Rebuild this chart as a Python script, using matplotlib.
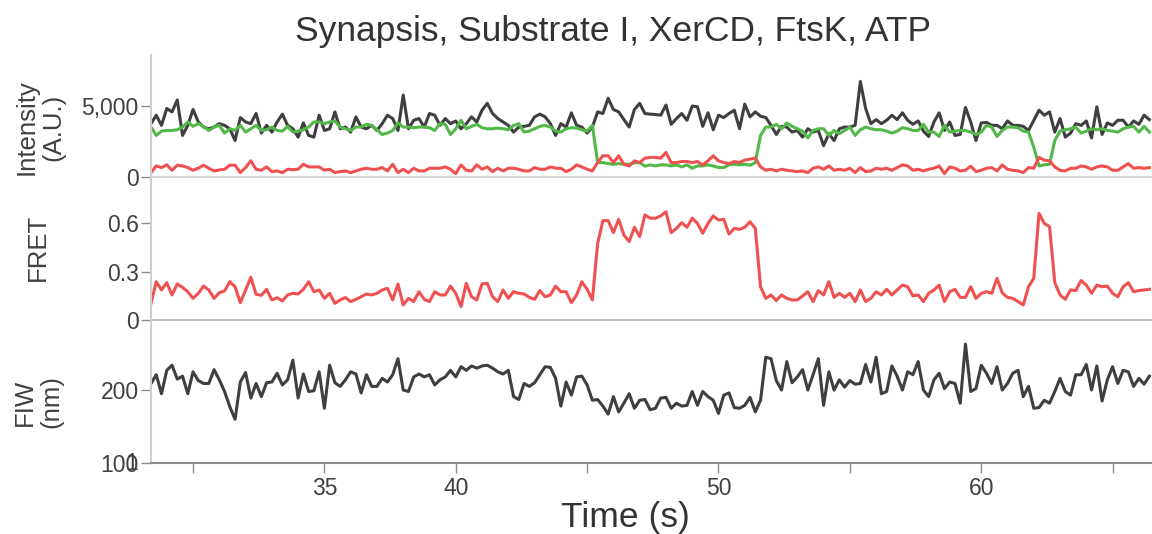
import numpy as np
import matplotlib
matplotlib.use("Agg")
import matplotlib.pyplot as plt

plt.rcParams['font.family'] = ['Liberation Sans', 'DejaVu Sans']

# frames every 0.2 s starting at 28.4 s
t_start = 28.4
t_step = 0.2

donor_acceptor_sum = [
    3760, 4355, 3640, 4830, 4590, 5430, 2930, 3640, 4760, 3880, 3520, 3400, 3520, 3760, 3640, 3400,
    2570, 4190, 3880, 3760, 4480, 3100, 3640, 3165, 3880, 4430, 3640, 3400, 2810, 3810, 2930, 2810,
    4355, 3280, 3400, 4590, 3400, 3520, 3165, 4240, 3520, 3400, 3640, 3280, 3760, 4355, 4120, 3280,
    5780, 3400, 4000, 4120, 3520, 4475, 4355, 3640, 4120, 3760, 3950, 3400, 3760, 4240, 3880, 4710,
    5190, 4475, 4120, 3880, 3640, 3165, 3520, 3570, 3640, 4240, 4430, 4240, 3760, 2930, 3760, 3520,
    4525, 3640, 3520, 3094, 3520, 4590, 4475, 5545, 4760, 4590, 4045, 3520, 4760, 5190, 4475, 4430,
    4405, 4355, 5070, 3715, 4120, 4475, 4000, 5000, 4950, 3570, 4525, 3330, 4355, 4190, 4475, 4710,
    3400, 5140, 4240, 4590, 4285, 4190, 3640, 3000, 3570, 3520, 3165, 3280, 2810, 3400, 3165, 3280,
    2210, 3050, 2570, 3400, 3520, 3520, 3640, 6735, 4830, 3760, 4045, 3760, 4000, 4355, 4045, 4525,
    4000, 3715, 3950, 3235, 2855, 3880, 4525, 3280, 3880, 2930, 3000, 4900, 3880, 2570, 3810, 3850,
    3640, 3640, 3400, 3950, 3640, 3640, 3570, 3280, 4000, 4710, 4355, 4590, 3165, 4120, 2810, 3094,
    3760, 3640, 3950, 2760, 4950, 3000, 3810, 3640, 4000, 4000, 3520, 3950, 3715, 4355, 4045,
]

donor = [
    3520, 2930, 3235, 3280, 3280, 3330, 3520, 3880, 3570, 3760, 3570, 3280, 3520, 3640, 3094, 3400,
    3280, 3640, 3165, 3400, 3640, 3280, 3330, 3520, 3280, 3235, 3570, 3165, 3235, 3330, 3520, 3880,
    3880, 3760, 3880, 3950, 3520, 3400, 3280, 3520, 3520, 3715, 3640, 3330, 2997, 3094, 3280, 3810,
    3520, 3520, 3475, 3520, 3520, 3475, 3280, 3760, 3715, 2997, 3400, 4000, 3400, 3570, 3715, 3475,
    3400, 3400, 3450, 3400, 3330, 3640, 3760, 3165, 3235, 3400, 3570, 3640, 3520, 3235, 3165, 3400,
    3475, 3450, 3330, 3235, 3640, 1018, 1018, 945, 900, 945, 900, 900, 995, 1018, 760, 855,
    780, 855, 855, 780, 855, 712, 855, 617, 780, 780, 855, 780, 665, 665, 855, 900,
    855, 900, 830, 1018, 2930, 3520, 3520, 3715, 3400, 3810, 3570, 3400, 3235, 2760, 3280, 3400,
    3400, 2930, 3280, 3050, 3280, 3520, 2930, 3330, 3520, 3400, 3330, 3330, 3235, 3094, 3235, 3475,
    3400, 3280, 3280, 3715, 3165, 3165, 2855, 3640, 3165, 3235, 3280, 3280, 3165, 3000, 3165, 3640,
    3520, 2855, 3280, 3520, 3520, 3475, 3235, 3165, 2095, 780, 855, 900, 2570, 3235, 3330, 3400,
    3520, 3094, 3235, 3400, 3330, 3400, 3280, 3235, 3165, 3400, 3520, 3570, 3165, 3570, 3165,
]

acceptor = [
    310, 780, 665, 855, 475, 830, 780, 665, 475, 617, 830, 617, 428, 500, 545, 830,
    830, 310, 665, 1140, 545, 475, 712, 380, 428, 310, 545, 520, 545, 900, 712, 712,
    712, 475, 545, 310, 380, 428, 310, 428, 545, 617, 545, 545, 665, 428, 900, 310,
    545, 310, 617, 428, 428, 617, 617, 617, 712, 545, 238, 855, 475, 428, 855, 545,
    712, 380, 617, 428, 617, 617, 545, 428, 428, 665, 545, 545, 712, 617, 617, 380,
    545, 855, 712, 545, 428, 1018, 1495, 1495, 1018, 1495, 900, 780, 1140, 1018, 1330, 1380,
    1380, 1330, 1735, 1018, 1018, 1090, 1090, 1018, 1090, 855, 1140, 1495, 1140, 1018, 945, 1090,
    1018, 1190, 1260, 1330, 712, 475, 545, 428, 545, 475, 428, 380, 428, 310, 617, 712,
    545, 780, 475, 545, 475, 617, 310, 665, 380, 428, 617, 545, 617, 475, 665, 855,
    780, 475, 545, 428, 545, 617, 780, 238, 712, 617, 428, 475, 760, 380, 475, 617,
    665, 428, 855, 545, 475, 428, 310, 665, 617, 1380, 1190, 1140, 712, 475, 428, 617,
    617, 780, 712, 545, 712, 780, 712, 475, 475, 712, 945, 617, 665, 617, 665,
]

fret = [
    0.103, 0.237, 0.186, 0.231, 0.155, 0.223, 0.202, 0.175, 0.134, 0.165, 0.210, 0.186, 0.134, 0.169, 0.180, 0.237,
    0.206, 0.107, 0.186, 0.264, 0.159, 0.153, 0.190, 0.124, 0.138, 0.118, 0.155, 0.165, 0.161, 0.190, 0.237, 0.175,
    0.186, 0.134, 0.165, 0.103, 0.124, 0.139, 0.114, 0.128, 0.144, 0.161, 0.155, 0.165, 0.186, 0.196, 0.124, 0.223,
    0.093, 0.134, 0.114, 0.175, 0.128, 0.114, 0.175, 0.155, 0.155, 0.210, 0.165, 0.083, 0.227, 0.144, 0.124, 0.223,
    0.227, 0.144, 0.114, 0.186, 0.134, 0.175, 0.165, 0.161, 0.140, 0.128, 0.182, 0.144, 0.155, 0.210, 0.175, 0.175,
    0.107, 0.155, 0.237, 0.190, 0.124, 0.474, 0.615, 0.615, 0.541, 0.623, 0.526, 0.485, 0.574, 0.516, 0.650, 0.630,
    0.630, 0.644, 0.670, 0.541, 0.567, 0.602, 0.574, 0.630, 0.598, 0.537, 0.598, 0.644, 0.619, 0.623, 0.532, 0.567,
    0.561, 0.574, 0.608, 0.567, 0.206, 0.134, 0.155, 0.120, 0.155, 0.134, 0.124, 0.124, 0.149, 0.175, 0.114, 0.182,
    0.155, 0.237, 0.140, 0.165, 0.140, 0.165, 0.114, 0.186, 0.114, 0.134, 0.175, 0.155, 0.190, 0.155, 0.186, 0.216,
    0.206, 0.149, 0.155, 0.114, 0.165, 0.186, 0.216, 0.114, 0.175, 0.190, 0.140, 0.140, 0.206, 0.134, 0.165, 0.175,
    0.165, 0.258, 0.168, 0.140, 0.134, 0.114, 0.093, 0.206, 0.258, 0.660, 0.598, 0.578, 0.231, 0.155, 0.128, 0.186,
    0.182, 0.244, 0.216, 0.165, 0.216, 0.206, 0.210, 0.165, 0.144, 0.206, 0.231, 0.175, 0.182, 0.186, 0.190,
]

fiw = [
    209, 221, 195, 227, 234, 215, 219, 195, 225, 213, 209, 209, 228, 214, 198, 177,
    160, 211, 224, 189, 209, 191, 210, 211, 223, 207, 214, 241, 189, 222, 198, 199,
    225, 175, 234, 210, 205, 214, 225, 222, 196, 221, 205, 205, 216, 211, 221, 243,
    200, 198, 218, 222, 218, 221, 207, 214, 218, 227, 218, 232, 227, 233, 230, 233,
    234, 230, 225, 222, 227, 191, 187, 209, 205, 210, 221, 232, 231, 216, 178, 211,
    193, 218, 219, 207, 186, 187, 178, 167, 191, 170, 182, 195, 175, 186, 187, 173,
    175, 189, 190, 175, 182, 178, 179, 198, 179, 198, 191, 186, 168, 193, 196, 176,
    175, 179, 190, 170, 186, 245, 243, 213, 200, 239, 210, 218, 228, 200, 221, 243,
    179, 225, 200, 214, 204, 213, 208, 209, 235, 211, 245, 195, 198, 233, 219, 200,
    225, 221, 239, 200, 191, 214, 223, 202, 211, 209, 182, 263, 198, 202, 234, 223,
    209, 232, 200, 209, 223, 227, 191, 205, 175, 176, 186, 182, 198, 216, 198, 193,
    221, 221, 235, 200, 233, 185, 214, 232, 209, 227, 225, 205, 216, 208, 219,
]

x_ticks = [30, 35, 40, 45, 50, 55, 60, 65]
x_tick_labels = ['', '35', '40', '', '50', '', '60', '']

t = t_start + t_step * np.arange(len(fret))

dark = '#3f3f3f'
green = '#52b848'
red = '#ef5151'
txt = '#404040'

fig = plt.figure(figsize=(11.52, 5.34), dpi=100)
W, H = 1152, 534


def box(top, bottom):
    return [151 / W, 1 - bottom / H, 1001 / W, (bottom - top) / H]


ax1 = fig.add_axes(box(55, 177))
ax2 = fig.add_axes(box(177, 320))
ax3 = fig.add_axes(box(320, 463))

lw = 2.2
ax1.plot(t, donor_acceptor_sum, color=dark, lw=lw)
ax1.plot(t, donor, color=green, lw=lw)
ax1.plot(t, acceptor, color=red, lw=lw)
ax1.set_ylim(0, 8600)
ax1.set_yticks([0, 5000])
ax1.set_yticklabels(['0', '5,000'])

ax2.plot(t, fret, color=red, lw=lw)
ax2.set_ylim(0, 0.885)
ax2.set_yticks([0, 0.3, 0.6])
ax2.set_yticklabels(['0', '0.3', '0.6'])

ax3.plot(t, fiw, color=dark, lw=lw)
ax3.set_ylim(100, 296)
ax3.set_yticks([100, 200])
ax3.set_yticklabels(['100', '200'])

bottom_colors = ['#d6d6d6', '#bdbdbd', '#8c8c8c']
for ax, bc in zip([ax1, ax2, ax3], bottom_colors):
    ax.set_xlim(28.4, 66.5)
    for s in ['top', 'right']:
        ax.spines[s].set_visible(False)
    ax.spines['left'].set_color('#cfcfcf')
    ax.spines['left'].set_linewidth(1.5)
    ax.spines['bottom'].set_color(bc)
    ax.spines['bottom'].set_linewidth(1.5)
    ax.tick_params(axis='y', length=7, width=1, color='#8c8c8c',
                   labelsize=16.5, labelcolor=txt, pad=2)
    ax.set_facecolor('none')

for ax in [ax1, ax2]:
    ax.set_xticks([])

ax3.set_xticks(x_ticks)
ax3.set_xticklabels(x_tick_labels)
ax3.tick_params(axis='x', length=7, width=1, color='#8c8c8c',
                labelsize=16.5, labelcolor=txt, pad=3)

# stray overlapping glyph on the lowest FIW label
fig.text(132 / W, 1 - 463 / H, '1', fontsize=16.5, color=txt,
         ha='center', va='center')

fig.text(40 / W, 1 - 127 / H, 'Intensity\n(A.U.)', rotation=90, fontsize=18.5,
         color=txt, ha='center', va='center', linespacing=1.15)
fig.text(38 / W, 1 - 247 / H, 'FRET', rotation=90, fontsize=18.5,
         color=txt, ha='center', va='center')
fig.text(38 / W, 1 - 402 / H, 'FIW\n(nm)', rotation=90, fontsize=18.5,
         color=txt, ha='center', va='center', linespacing=1.15)

fig.text(613 / W, 1 - 32 / H, 'Synapsis, Substrate I, XerCD, FtsK, ATP',
         fontsize=25.5, color='#333333', ha='center', va='center')
fig.text(625 / W, 1 - 518 / H, 'Time (s)', fontsize=25.5, color='#333333',
         ha='center', va='center')

fig.savefig('out.png', dpi=100)
